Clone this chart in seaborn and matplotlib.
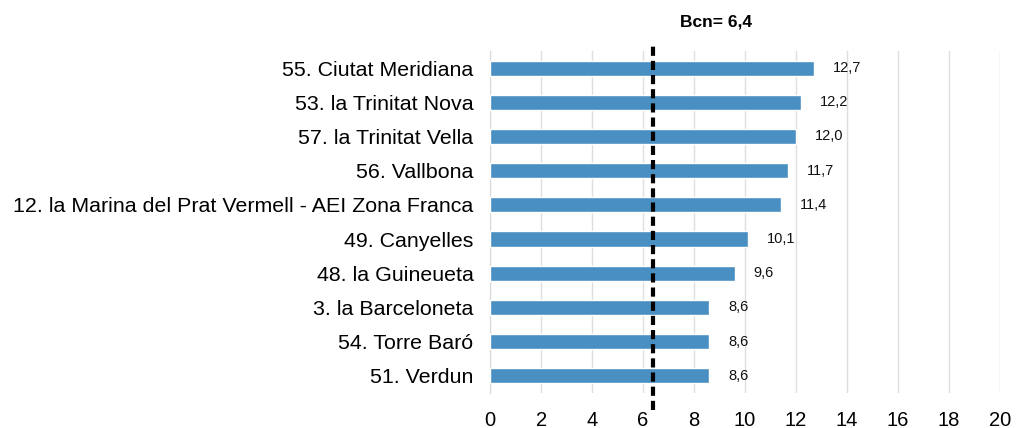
import matplotlib
matplotlib.use("Agg")
import matplotlib.pyplot as plt
import seaborn as sns
import pandas as pd

sns.set_style("white")
plt.rcParams['font.family'] = ['Liberation Sans', 'DejaVu Sans']
plt.rcParams['text.color'] = 'black'
plt.rcParams['xtick.labelcolor'] = 'black'
plt.rcParams['ytick.labelcolor'] = 'black'

barris = ["55. Ciutat Meridiana", "53. la Trinitat Nova", "57. la Trinitat Vella",
          "56. Vallbona", "12. la Marina del Prat Vermell - AEI Zona Franca",
          "49. Canyelles", "48. la Guineueta", "3. la Barceloneta",
          "54. Torre Baró", "51. Verdun"]
valors = [12.7, 12.2, 12.0, 11.7, 11.4, 10.1, 9.6, 8.6, 8.6, 8.6]
bcn = 6.4
xticks = list(range(0, 21, 2))

df = pd.DataFrame({"barri": barris, "valor": valors})

fig = plt.figure(figsize=(10.17, 4.28), dpi=100)
ax = fig.add_axes([0.482, 0.082, 0.501, 0.799])

sns.barplot(data=df, x="valor", y="barri", color="#4a8fc2", saturation=1,
            width=0.44, ax=ax, zorder=3)

ax.set_xlim(0, 20)
ax.set_xticks(xticks)
ax.set_xticklabels([str(t) for t in xticks], fontsize=14.5)
ax.tick_params(axis='y', labelsize=15.4, length=0, pad=12)
ax.tick_params(axis='x', length=5, color="#d9d9d9", pad=8)
ax.grid(axis='x', color="#dedede", lw=1, zorder=0)
ax.set_xlabel("")
ax.set_ylabel("")
for s in ["top", "right", "bottom"]:
    ax.spines[s].set_visible(False)
ax.spines["left"].set_color("#d9d9d9")

for i, v in enumerate(valors):
    ax.text(v + 0.75, i, f"{v:.1f}".replace(".", ","), va="center", ha="left",
            fontsize=10.5, color="#111111")

ax.axvline(bcn, ymin=-0.05, ymax=1.02, color="black", lw=3, ls=(0, (2.2, 1.2)),
           clip_on=False, zorder=5)
ax.text(bcn + 1.05, 1.085, f"Bcn= {bcn:.1f}".replace(".", ","), transform=ax.get_xaxis_transform(),
        fontsize=12.5, fontweight="bold", ha="left", va="center")

fig.savefig("out.png", dpi=100)
